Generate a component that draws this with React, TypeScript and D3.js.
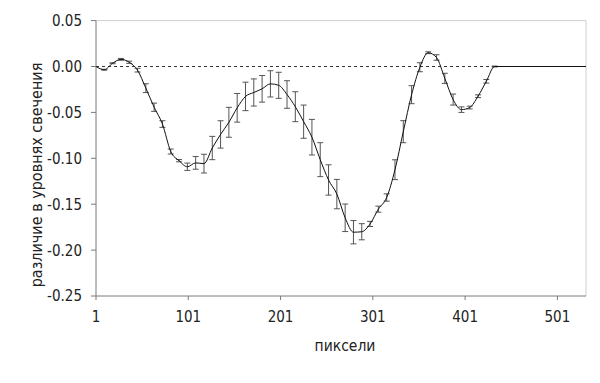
import React from "react";
import * as d3 from "d3";

const pixels = [1, 10, 19, 28, 37, 46, 55, 64, 73, 82, 91, 100, 109, 118, 127, 136, 145, 154, 163, 172, 181, 190, 199, 208, 217, 226, 235, 244, 253, 262, 271, 280, 289, 298, 307, 316, 325, 334, 343, 352, 361, 370, 379, 388, 397, 406, 415, 424, 433, 532];
const means = [0, -0.0035, 0.0035, 0.0078, 0.0046, -0.004, -0.0236, -0.0444, -0.0627, -0.0926, -0.1026, -0.1092, -0.105, -0.1058, -0.0888, -0.074, -0.0608, -0.045, -0.0326, -0.0283, -0.0243, -0.0189, -0.0205, -0.0305, -0.0438, -0.0601, -0.077, -0.1015, -0.1236, -0.139, -0.1648, -0.1805, -0.18, -0.1715, -0.1554, -0.1427, -0.1124, -0.071, -0.0307, -0.0008, 0.015, 0.0098, -0.0129, -0.036, -0.047, -0.0447, -0.0324, -0.0161, 0, 0];
const errors = [0, 0.0005, 0.0005, 0.001, 0.0012, 0.002, 0.0048, 0.0045, 0.0036, 0.0027, 0.0012, 0.004, 0.0069, 0.0102, 0.0127, 0.0149, 0.0163, 0.0156, 0.0155, 0.0148, 0.0145, 0.0143, 0.0142, 0.015, 0.0163, 0.0181, 0.0194, 0.0185, 0.0165, 0.016, 0.015, 0.0127, 0.0088, 0.0028, 0.0033, 0.004, 0.0108, 0.012, 0.0098, 0.0049, 0.001, 0.003, 0.0055, 0.006, 0.003, 0.0015, 0.0015, 0.002, 0.0005, 0];

const xTicks = [1, 101, 201, 301, 401, 501];
const yTicks = [0.05, 0, -0.05, -0.1, -0.15, -0.2, -0.25];
const yTickLabels = ["0.05", "0.00", "-0.05", "-0.10", "-0.15", "-0.20", "-0.25"];
const xTitle = "пиксели";
const yTitle = "различие в уровнях свечения";

const W = 600;
const H = 383;
const left = 96;
const right = 586;
const top = 20.6;
const bottom = 296;
const FONT = "'Liberation Sans Narrow', 'DejaVu Sans Condensed', 'Liberation Sans', sans-serif";

export default function App() {
  const x = d3.scaleLinear().domain([1, 532]).range([left, right]);
  const y = d3.scaleLinear().domain([-0.25, 0.05]).range([bottom, top]);
  const data = pixels.map((p, i) => ({ p, m: means[i], e: errors[i] }));
  const line = d3
    .line<{ p: number; m: number }>()
    .x((d) => x(d.p))
    .y((d) => y(d.m))
    .curve(d3.curveMonotoneX);

  return (
    <svg
      width={W}
      height={H}
      style={{ position: "absolute", left: 0, top: 0, background: "#fff" }}
      fontFamily={FONT}
    >
      <rect x={0} y={0} width={W} height={H} fill="#fff" />
      <line x1={left} x2={right} y1={top} y2={top} stroke="#cfcfcf" strokeWidth={1} />
      <line x1={right} x2={right} y1={top} y2={bottom} stroke="#cfcfcf" strokeWidth={1} />
      <line
        x1={left}
        x2={right}
        y1={y(0)}
        y2={y(0)}
        stroke="#333"
        strokeWidth={1}
        strokeDasharray="3,3"
      />
      <line x1={left} x2={left} y1={top} y2={bottom} stroke="#7a7a7a" strokeWidth={1} />
      <line x1={left} x2={right} y1={bottom} y2={bottom} stroke="#7a7a7a" strokeWidth={1} />
      {yTicks.map((t, i) => (
        <g key={"yt" + i}>
          <line x1={left - 5} x2={left} y1={y(t)} y2={y(t)} stroke="#7a7a7a" />
          <text
            x={left - 14}
            y={y(t)}
            dy="0.36em"
            textAnchor="end"
            fontSize={15}
            fill="#222"
          >
            {yTickLabels[i]}
          </text>
        </g>
      ))}
      {xTicks.map((t, i) => (
        <g key={"xt" + i}>
          <line x1={x(t)} x2={x(t)} y1={bottom} y2={bottom + 4} stroke="#7a7a7a" />
          <text x={x(t)} y={322} textAnchor="middle" fontSize={15} fill="#222">
            {t}
          </text>
        </g>
      ))}
      <text x={345} y={351} textAnchor="middle" fontSize={15.5} fill="#222">
        {xTitle}
      </text>
      <text
        transform={`translate(42,175) rotate(-90)`}
        textAnchor="middle"
        fontSize={16}
        fill="#222"
      >
        {yTitle}
      </text>
      {data
        .filter((d) => d.e > 0)
        .map((d, i) => {
          const cx = x(d.p);
          const y1 = y(d.m + d.e);
          const y2 = y(d.m - d.e);
          return (
            <g key={"eb" + i} stroke="#555" strokeWidth={1}>
              <line x1={cx} x2={cx} y1={y1} y2={y2} />
              <line x1={cx - 3} x2={cx + 3} y1={y1} y2={y1} />
              <line x1={cx - 3} x2={cx + 3} y1={y2} y2={y2} />
            </g>
          );
        })}
      <path d={line(data) || ""} fill="none" stroke="#111" strokeWidth={1} />
    </svg>
  );
}
